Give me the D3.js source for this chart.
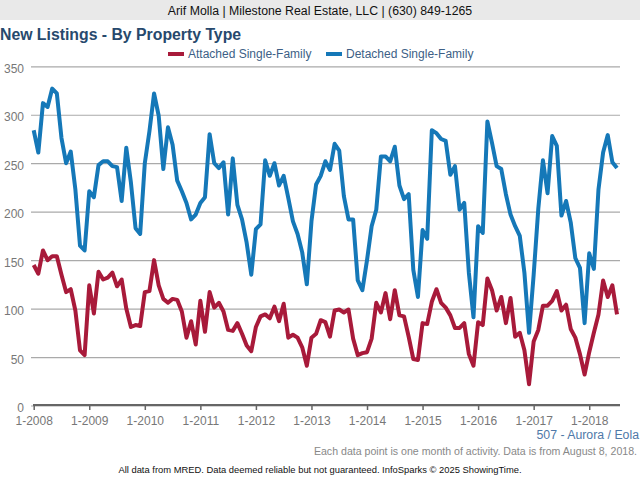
<!DOCTYPE html>
<html>
<head>
<meta charset="utf-8">
<script src="https://cdn.jsdelivr.net/npm/d3@7"></script>
<style>
  html, body { margin: 0; padding: 0; background: #fff; }
  text { font-family: "Liberation Sans", Arial, sans-serif; }
</style>
</head>
<body>
<svg id="chart" width="640" height="480"></svg>
<script>
// monthly values, Jan 2008 to Jul 2018
const attached = [
  145, 136, 160, 150, 154, 154, 135, 117, 120, 98, 57, 52,
  124, 95, 138, 130, 132, 137, 123, 130, 100, 81, 83, 82,
  117, 118, 150, 124, 110, 106, 110, 109, 97, 70, 87, 63,
  108, 76, 117, 101, 106, 97, 78, 77, 85, 74, 62, 56,
  81, 92, 94, 90, 102, 87, 105, 70, 73, 70, 60, 41,
  70, 74, 88, 86, 71, 98, 99, 96, 99, 69, 52, 54,
  55, 69, 106, 96, 116, 89, 119, 93, 92, 71, 48, 47,
  85, 84, 107, 120, 106, 101, 93, 80, 80, 85, 53, 41,
  86, 83, 131, 119, 98, 112, 85, 111, 71, 75, 57, 22,
  66, 78, 103, 103, 108, 118, 98, 104, 79, 70, 53, 32,
  55, 75, 94, 129, 112, 124, 94
];
const detached = [
  284, 261, 312, 308, 327, 322, 276, 250, 262, 223, 165, 160,
  221, 215, 248, 252, 252, 247, 246, 211, 266, 230, 183, 177,
  250, 283, 322, 299, 244, 287, 269, 232, 221, 209, 192, 197,
  209, 215, 280, 250, 245, 251, 197, 255, 207, 192, 168, 135,
  182, 187, 253, 237, 250, 227, 237, 214, 190, 177, 158, 125,
  190, 228, 237, 252, 243, 270, 263, 216, 192, 192, 129, 119,
  150, 185, 202, 257, 257, 252, 267, 227, 213, 218, 140, 112,
  181, 172, 284, 281, 275, 273, 238, 247, 202, 209, 137, 91,
  185, 178, 293, 271, 247, 244, 218, 197, 185, 175, 137, 75,
  135, 203, 253, 219, 278, 268, 196, 211, 189, 152, 142, 85,
  157, 141, 223, 261, 279, 251, 245
];
const yTicks = [0, 50, 100, 150, 200, 250, 300, 350];
const xTickLabels = ['1-2008', '1-2009', '1-2010', '1-2011', '1-2012', '1-2013',
  '1-2014', '1-2015', '1-2016', '1-2017', '1-2018'];

const RED = '#a81a3a';
const BLUE = '#1578b8';

const svg = d3.select('#chart');

const x = d3.scaleLinear().domain([0, 126]).range([33.7, 617]);
const y = d3.scaleLinear().domain([0, 350]).range([405.5, 66.3]);

// header band
svg.append('rect').attr('width', 640).attr('height', 20).attr('fill', '#e9e9e9');
svg.append('text').attr('x', 320).attr('y', 15).attr('text-anchor', 'middle')
  .attr('font-size', 12.3).attr('fill', '#111')
  .text('Arif Molla | Milestone Real Estate, LLC | (630) 849-1265');

svg.append('text').attr('x', 0).attr('y', 40)
  .attr('font-size', 15.8).attr('font-weight', 'bold').attr('fill', '#27496d')
  .text('New Listings - By Property Type');

// legend
const legend = [
  { name: 'Attached Single-Family', color: RED, lx: 168 },
  { name: 'Detached Single-Family', color: BLUE, lx: 326 }
];
legend.forEach((d) => {
  svg.append('line').attr('x1', d.lx).attr('x2', d.lx + 16).attr('y1', 54).attr('y2', 54)
    .attr('stroke', d.color).attr('stroke-width', 4);
  svg.append('text').attr('x', d.lx + 20).attr('y', 58)
    .attr('font-size', 12).attr('fill', '#3d5f86').text(d.name);
});

// grid and y labels
const yAxis = d3.axisLeft(y).tickValues(yTicks).tickSize(589).tickPadding(7);
const yG = svg.append('g').attr('transform', 'translate(620,0)').call(yAxis);
yG.select('.domain').remove();
yG.selectAll('.tick line').attr('stroke', '#aaa').attr('stroke-width', 1.2);
yG.selectAll('.tick text').attr('font-size', 12).attr('font-family', null).attr('fill', '#777')
  .attr('dy', '0.5em');

// x axis, ticks every 12 months
const xAxis = d3.axisBottom(x)
  .tickValues(xTickLabels.map((d, i) => i * 12))
  .tickFormat((d) => xTickLabels[d / 12])
  .tickSize(5).tickSizeOuter(0).tickPadding(6);
const xG = svg.append('g').attr('transform', 'translate(0,405)').call(xAxis);
xG.select('.domain').attr('stroke', '#666').attr('stroke-width', 2.2)
  .attr('d', 'M33,0H620');
xG.selectAll('.tick line').attr('stroke', '#666').attr('stroke-width', 1.5);
xG.selectAll('.tick text').attr('font-size', 12).attr('font-family', null).attr('fill', '#777');

// series
const line = d3.line().x((d, i) => x(i)).y((d) => y(d));
[[detached, BLUE], [attached, RED]].forEach(([values, color]) => {
  svg.append('path').datum(values).attr('d', line)
    .attr('fill', 'none').attr('stroke', color)
    .attr('stroke-width', 4).attr('stroke-linejoin', 'round');
});

// footer
svg.append('text').attr('x', 639).attr('y', 439).attr('text-anchor', 'end')
  .attr('font-size', 12.3).attr('fill', '#4f79a8').text('507 - Aurora / Eola');
svg.append('text').attr('x', 637).attr('y', 455).attr('text-anchor', 'end')
  .attr('font-size', 10.6).attr('fill', '#888')
  .text('Each data point is one month of activity. Data is from August 8, 2018.');
svg.append('text').attr('x', 320).attr('y', 473).attr('text-anchor', 'middle')
  .attr('font-size', 9.4).attr('fill', '#111')
  .text('All data from MRED. Data deemed reliable but not guaranteed. InfoSparks © 2025 ShowingTime.');
</script>
</body>
</html>
